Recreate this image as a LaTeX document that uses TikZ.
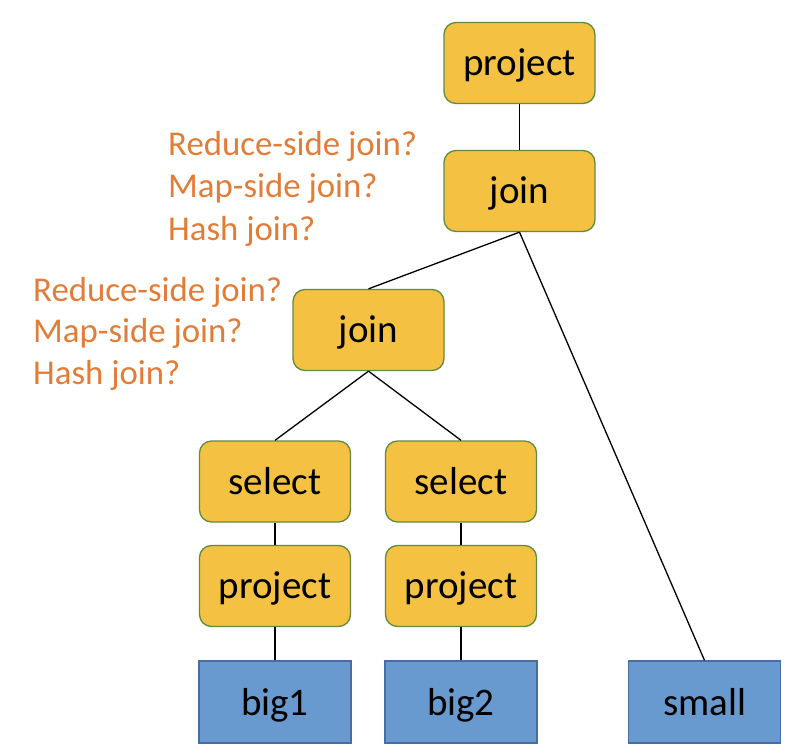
\documentclass[tikz,border=0pt]{standalone}
\usepackage{fontspec}
\setmainfont{Carlito}
\definecolor{boxgold}{RGB}{244,193,66}
\definecolor{boxgreen}{RGB}{98,140,60}
\definecolor{boxblue}{RGB}{104,153,207}
\definecolor{blueedge}{RGB}{70,110,160}
\definecolor{qorange}{RGB}{226,125,56}
\begin{document}
\begin{tikzpicture}[x=1pt,y=-1pt,
  opbox/.style={draw=boxgreen, line width=1.3pt, fill=boxgold, rounded corners=12pt,
    minimum width=151pt, minimum height=81pt, inner sep=0pt,
    font=\fontsize{39}{42}\selectfont, text height=25.5pt, text depth=0pt},
  tablebox/.style={draw=blueedge, line width=1.3pt, fill=boxblue,
    minimum width=152pt, minimum height=82pt, inner sep=0pt,
    font=\fontsize{39}{42}\selectfont, text height=26pt, text depth=0pt},
  question/.style={anchor=base west, inner sep=0pt, text=qorange,
    font=\fontsize{34.8}{40}\selectfont},
  link/.style={draw=black, line width=1.3pt}]
\useasboundingbox (0,0) rectangle (798,754);
\fill[white] (0,0) rectangle (798,754);

\node[opbox] (p0) at (519.5,63) {project};
\node[opbox] (j0) at (519.5,191) {join};
\node[opbox] (j1) at (368.5,330) {join};
\node[opbox] (s1) at (275,481.5) {select};
\node[opbox] (s2) at (461,481.5) {select};
\node[opbox] (p1) at (275,586) {project};
\node[opbox] (p2) at (461,586) {project};
\node[tablebox] (b1) at (275,702) {big1};
\node[tablebox] (b2) at (461,702) {big2};
\node[tablebox] (sm) at (704.5,702) {small};

\node[question] (q1) at (168,156) {Reduce-side join?};
\node[question] (q2) at (168,198) {Map-side join?};
\node[question] (q3) at (168,240.5) {Hash join?};
\node[question] (q4) at (33,301) {Reduce-side join?};
\node[question] (q5) at (33,342.5) {Map-side join?};
\node[question] (q6) at (33,384) {Hash join?};

\draw[link] (p0.south) -- (j0.north);
\draw[link] (j0.south) -- (j1.north);
\draw[link] (j0.south) -- (sm.north);
\draw[link] (j1.south) -- (s1.north);
\draw[link] (j1.south) -- (s2.north);
\draw[link] (s1.south) -- (p1.north);
\draw[link] (s2.south) -- (p2.north);
\draw[link] (p1.south) -- (b1.north);
\draw[link] (p2.south) -- (b2.north);
\end{tikzpicture}
\end{document}
